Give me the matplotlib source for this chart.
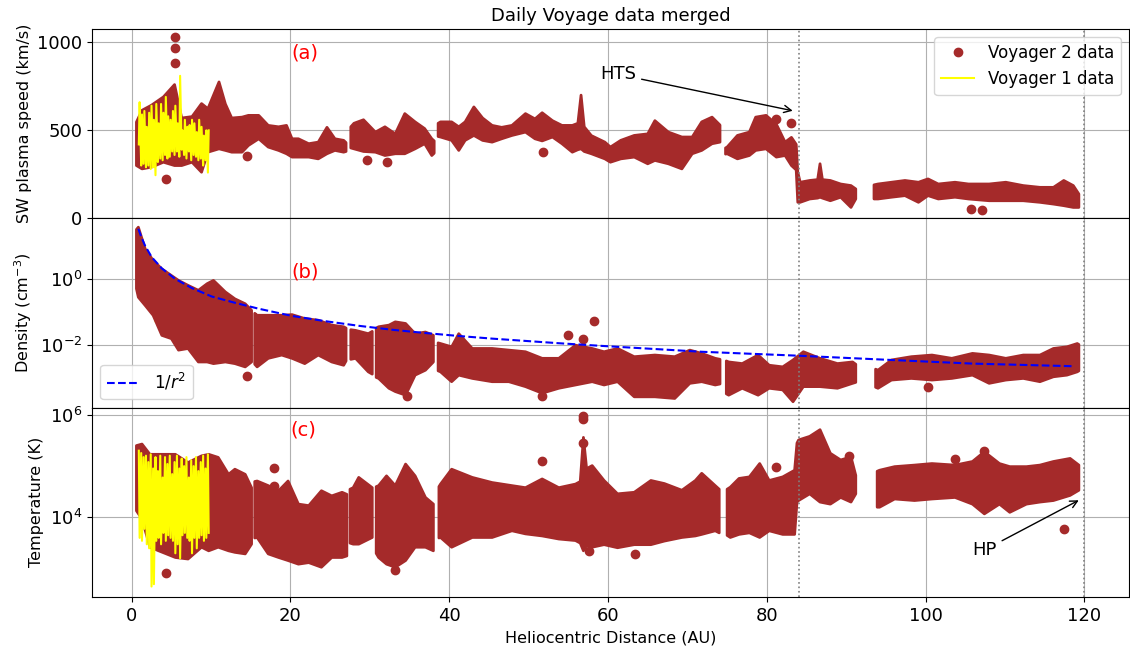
import numpy as np
import matplotlib
matplotlib.use("Agg")
import matplotlib.pyplot as plt
from matplotlib.ticker import NullLocator

nan = np.nan

# --- panel (a): Voyager 2 solar wind speed, envelope of the daily points (km/s)
speed_dist = [0.6, 1.3, 2.5, 4.0, 5.4, 6.3, 7.6, 8.8, 9.6, 11.0, 11.8, 12.6, 13.9, 14.7, 16.0,
              17.2, 18.5, 19.5, 20.2, 21.0, 22.3, 23.5, 24.6, 25.6, 26.7, 27.0, 27.3, 27.6, 28.0,
              29.2, 30.7, 31.9, 33.2, 34.4, 35.7, 36.9, 37.8, 38.1, 38.35, 38.6, 38.9, 40.3, 41.2,
              42.0, 43.1, 44.2, 45.4, 46.6, 47.9, 49.6, 50.8, 51.7, 53.0, 54.2, 55.5, 56.2, 56.6,
              57.0, 57.9, 59.6, 60.3, 61.6, 63.3, 65.0, 65.9, 67.6, 69.3, 70.6, 71.8, 73.1, 74.1,
              74.45, 74.8, 75.0, 76.3, 77.8, 78.6, 79.9, 81.2, 82.3, 83.1, 83.7, 83.9, 84.2, 85.4,
              86.4, 86.7, 87.0, 88.0, 89.3, 90.6, 91.2, 92.3, 93.5, 94.0, 95.7, 97.4, 99.1, 100.3,
              101.6, 103.7, 105.4, 108.0, 110.1, 112.3, 114.4, 116.1, 117.4, 118.6, 119.3]
speed_hi = [547, 614, 643, 690, 760, 570, 578, 652, 623, 775, 650, 570, 575, 585, 585,
            528, 520, 528, 452, 452, 424, 433, 517, 452, 443, 430, nan, 520, 540,
            560, 490, 520, 480, 595, 548, 510, 452, 440, nan, 540, 548, 548, 520,
            548, 633, 570, 528, 517, 528, 595, 565, 600, 555, 528, 528, 540, 700,
            520, 470, 433, 405, 443, 471, 480, 555, 490, 462, 462, 548, 575, 530,
            nan, 400, 405, 471, 490, 575, 585, 535, 433, 460, 420, 262, 205, 215,
            220, 310, 220, 215, 195, 186, 167, nan, 190, 195, 205, 215, 205, 224,
            195, 205, 195, 195, 205, 186, 176, 176, 215, 186, 138]
speed_lo = [300, 281, 291, 319, 300, 300, 319, 262, 376, 395, 386, 376, 376, 414, 452,
            405, 386, 367, 348, 348, 348, 338, 367, 386, 376, 380, nan, 400, 395,
            380, 376, 357, 367, 367, 395, 424, 357, 370, nan, 465, 462, 443, 386,
            443, 471, 443, 433, 452, 471, 490, 452, 440, 462, 424, 376, 390, 395,
            380, 367, 338, 319, 338, 348, 310, 329, 310, 281, 367, 386, 424, 433,
            nan, 365, 367, 338, 357, 386, 395, 348, 357, 300, 275, 91, 91, 110,
            115, 120, 115, 100, 120, 62, 110, nan, 110, 110, 120, 129, 91, 129,
            110, 120, 110, 100, 100, 100, 91, 81, 72, 62, 62]
speed_out_dist = [4.3, 5.5, 5.5, 5.5, 14.5, 29.6, 32.1, 51.8, 81.2, 83.0, 105.7, 107.1]
speed_out = [224, 1028, 969, 880, 357, 329, 319, 376, 562, 543, 53, 48]

# --- panel (b): density envelope, log10(cm^-3)
dens_dist = [0.6, 0.84, 1.7, 2.7, 3.8, 5.0, 5.9, 7.1, 8.4, 9.5, 10.3, 11.8, 13.0, 14.3, 15.1,
             15.3, 15.5, 15.8, 17.2, 18.9, 20.2, 21.8, 23.5, 25.2, 26.7, 27.0, 27.3, 27.6, 28.2,
             29.8, 30.3, 30.55, 30.8, 31.1, 32.4, 33.2, 34.5, 35.7, 37.0, 38.0, 38.4, 38.6, 38.9,
             40.3, 41.2, 42.9, 45.4, 47.5, 49.6, 51.7, 53.8, 55.9, 58.0, 59.5, 61.2, 63.3, 65.9,
             68.4, 70.3, 71.8, 73.5, 74.1, 74.5, 74.9, 75.2, 76.9, 78.9, 80.3, 82.0, 83.3, 84.6,
             86.7, 88.9, 90.8, 91.2, 92.5, 93.7, 94.0, 95.7, 98.2, 100.8, 103.3, 105.9, 108.0,
             110.1, 112.3, 114.4, 116.1, 117.8, 119.1, 119.3]
dens_hi_log = [1.50, 1.57, 0.91, 0.56, 0.30, 0.10, -0.05, -0.20, -0.35, -0.15, -0.05, -0.40, -0.61, -0.76, -0.96,
               nan, -1.05, -1.11, -1.11, -1.11, -1.09, -1.21, -1.26, -1.41, -1.46, -1.50, nan, -1.55, -1.57,
               -1.67, -1.60, nan, -1.50, -1.46, -1.41, -1.31, -1.36, -1.67, -1.62, -1.72, nan, -1.95, -1.97,
               -2.07, -1.67, -2.12, -2.12, -2.17, -2.22, -2.42, -2.42, -2.02, -2.12, -2.22, -2.12, -2.37, -2.32,
               -2.37, -2.17, -2.27, -2.42, -2.45, nan, -2.50, -2.53, -2.58, -2.32, -2.63, -2.68, -2.47, -2.22,
               -2.42, -2.58, -2.53, -2.60, nan, -2.75, -2.78, -2.47, -2.37, -2.32, -2.42, -2.27, -2.32,
               -2.42, -2.32, -2.32, -2.12, -2.07, -1.97, -2.00]
dens_lo_log = [-0.30, -0.56, -0.81, -1.11, -1.72, -1.82, -2.17, -2.12, -2.53, -2.53, -2.58, -2.53, -2.58, -2.68, -2.53,
               nan, -2.60, -2.68, -2.42, -2.32, -2.42, -2.58, -2.32, -2.53, -2.63, -2.50, nan, -2.45, -2.42,
               -2.83, -2.90, nan, -3.00, -3.03, -3.33, -3.43, -3.54, -2.93, -2.78, -2.53, nan, -2.80, -2.83,
               -3.13, -2.93, -3.03, -3.13, -3.13, -3.28, -3.48, -3.33, -3.23, -3.13, -3.23, -3.13, -3.59, -3.59,
               -3.64, -3.18, -3.13, -3.23, -3.20, nan, -3.50, -3.54, -3.33, -3.54, -3.33, -3.38, -3.74, -3.28,
               -3.28, -3.33, -3.18, -3.15, nan, -3.30, -3.33, -3.08, -3.03, -3.08, -3.03, -2.93, -3.18,
               -3.08, -3.03, -3.13, -2.98, -2.93, -2.83, -2.80]
dens_out_dist = [14.5, 34.7, 51.7, 55.0, 56.9, 58.2, 100.3]
dens_out_log = [-2.96, -3.57, -3.57, -1.72, -1.82, -1.29, -3.28]

# 1/r^2 reference curve
r2_dist = [0.84, 1.2, 1.68, 2.52, 3.78, 5.46, 7.56, 10.1, 13.0, 16.0, 20.2, 24.4, 28.6, 32.8,
           37.0, 41.2, 45.4, 49.6, 53.8, 59.1, 71.8, 84.0, 95.7, 105.9, 118.6]
r2_log = [1.52, 1.28, 1.01, 0.66, 0.32, 0.0, -0.28, -0.54, -0.73, -0.91, -1.13, -1.29, -1.43, -1.55,
          -1.65, -1.74, -1.82, -1.89, -1.96, -2.04, -2.22, -2.34, -2.47, -2.58, -2.66]

# --- panel (c): temperature envelope, log10(K)
temp_dist = [0.6, 1.3, 2.3, 3.4, 5.5, 7.1, 8.8, 9.7, 10.9, 12.2, 13.0, 14.3, 15.1, 15.3, 15.5,
             15.8, 17.2, 18.5, 19.7, 21.0, 22.3, 23.9, 25.2, 26.5, 27.1, 27.3, 27.5, 27.9, 28.6,
             30.3, 30.6, 30.8, 31.1, 32.1, 33.2, 34.5, 35.7, 37.0, 38.0, 38.4, 38.7, 38.9, 40.3,
             42.9, 45.4, 47.9, 49.6, 51.7, 53.8, 55.9, 56.5, 56.9, 57.3, 58.0, 59.5, 61.2, 63.3,
             65.4, 67.1, 69.3, 71.0, 71.8, 73.5, 74.0, 74.5, 75.0, 75.4, 76.5, 77.8, 79.1, 80.3,
             82.0, 83.5, 83.8, 84.0, 85.4, 86.7, 88.0, 89.3, 90.6, 91.2, 92.5, 93.9, 94.2, 96.1,
             98.6, 100.8, 103.7, 105.9, 107.4, 109.3, 110.6, 112.7, 114.4, 116.1, 118.2, 119.3]
temp_hi_log = [5.40, 5.43, 5.23, 5.23, 5.23, 5.07, 5.20, 5.23, 5.17, 4.84, 4.94, 4.84, 4.58, nan, 4.70,
               4.71, 4.62, 4.52, 4.71, 4.26, 4.23, 4.52, 4.42, 4.49, 4.45, nan, 4.55, 4.58, 4.78,
               4.58, nan, 4.60, 4.62, 4.81, 4.62, 5.04, 4.81, 4.39, 4.26, nan, 4.60, 4.65, 4.94,
               4.78, 4.68, 4.62, 4.58, 4.75, 4.58, 4.65, 4.70, 5.56, 4.95, 5.01, 4.72, 4.46, 4.49,
               4.72, 4.66, 4.53, 4.72, 4.86, 4.62, 4.55, nan, 4.55, 4.59, 4.76, 4.79, 5.05, 4.72,
               4.79, 4.92, 5.45, 5.51, 5.58, 5.71, 5.25, 5.12, 5.18, 4.82, nan, 4.90, 4.92, 4.99,
               5.02, 5.05, 5.02, 5.09, 5.28, 5.05, 4.99, 4.99, 5.02, 5.09, 5.15, 5.02]
temp_lo_log = [4.13, 3.97, 3.42, 3.35, 3.22, 3.19, 3.42, 3.35, 3.42, 3.35, 3.32, 3.29, 3.48, nan, 3.60,
               3.61, 3.29, 3.22, 3.16, 3.09, 3.12, 3.03, 3.22, 3.22, 3.25, nan, 3.50, 3.48, 3.48,
               3.61, nan, 3.30, 3.22, 3.09, 3.03, 3.16, 3.42, 3.42, 3.35, nan, 3.60, 3.61, 3.42,
               3.61, 3.61, 3.74, 3.68, 3.64, 3.58, 3.55, 3.50, 3.35, 3.45, 3.42, 3.47, 3.41, 3.47,
               3.47, 3.54, 3.61, 3.64, 3.67, 3.74, 3.70, nan, 3.65, 3.61, 3.67, 3.70, 3.61, 3.74,
               3.67, 3.67, 4.30, 4.33, 4.46, 4.30, 4.26, 4.39, 4.30, 4.46, nan, 4.20, 4.20, 4.36,
               4.33, 4.36, 4.39, 4.26, 4.07, 4.26, 4.10, 4.26, 4.30, 4.33, 4.43, 4.53]
temp_out_dist = [4.3, 17.9, 17.9, 33.2, 51.7, 56.9, 56.9, 56.9, 57.6, 63.4, 81.2, 90.3, 103.7, 107.3, 117.4]
temp_out_log = [2.91, 4.97, 4.62, 2.98, 5.10, 5.98, 5.92, 5.46, 3.35, 3.28, 4.99, 5.20, 5.13, 5.30, 3.77]

# --- Voyager 1 (inner heliosphere only)
v1_dist = [0.9, 1.0, 1.2, 1.3, 1.5, 1.6, 1.8, 1.9, 2.1, 2.2, 2.4, 2.5, 2.7, 2.8, 3.0,
           3.1, 3.3, 3.4, 3.6, 3.7, 3.9, 4.0, 4.2, 4.3, 4.5, 4.6, 4.8, 4.9, 5.1, 5.2,
           5.4, 5.5, 5.7, 5.8, 6.0, 6.1, 6.3, 6.4, 6.6, 6.7, 6.9, 7.0, 7.2, 7.3, 7.5,
           7.6, 7.8, 7.9, 8.1, 8.2, 8.4, 8.5, 8.7, 8.8, 9.0, 9.1, 9.3, 9.4, 9.6, 9.7]
v1_speed = [420, 660, 300, 590, 310, 610, 290, 520, 300, 600,
            280, 640, 290, 560, 245, 650, 320, 540, 340, 650,
            330, 600, 360, 690, 340, 580, 350, 560, 380, 610,
            360, 640, 380, 540, 350, 810, 390, 500, 360, 560,
            340, 520, 380, 530, 330, 560, 360, 540, 350, 490,
            330, 560, 340, 520, 300, 470, 330, 500, 260, 500]
v1_temp = [2.0e5, 4.0e3, 1.8e5, 3.5e3, 1.5e5, 6.0e3, 1.6e5, 3.0e3, 1.2e5, 2.5e3,
           1.7e5, 4.5e2, 9.0e4, 5.0e2, 1.5e5, 3.5e3, 8.0e4, 4.0e3, 1.6e5, 3.0e3,
           6.0e4, 5.0e3, 1.5e5, 3.5e3, 1.1e5, 4.5e3, 1.6e5, 4.0e3, 7.0e4, 3.5e3,
           1.2e5, 2.0e3, 1.6e5, 3.0e3, 9.0e4, 1.6e3, 1.4e5, 4.5e3, 1.0e5, 5.0e3,
           1.5e5, 4.0e3, 6.0e4, 3.5e3, 1.3e5, 2.0e3, 1.0e5, 4.0e3, 1.5e5, 2.5e3,
           8.0e4, 4.0e3, 1.2e5, 4.5e3, 1.6e5, 3.5e3, 9.0e4, 4.0e3, 1.7e5, 5.0e3]
v1_dens_dist = [1.0, 1.5, 2.0, 2.5, 2.7, 3.0, 3.2, 3.5, 4.0, 5.0, 6.0, 7.0, 8.0, 9.0, 9.7]
v1_dens = [10, 3, 1.5, 0.25, 1.0, 0.05, 0.8, 0.3, 0.2, 0.1, 0.05, 0.03, 0.02, 0.01, 0.02]

V2 = 'brown'
V1 = 'yellow'

fig, (ax1, ax2, ax3) = plt.subplots(3, 1, sharex=True, figsize=(11.3, 6.53), dpi=100)
fig.subplots_adjust(left=0.0814, right=0.999, top=0.9556, bottom=0.0858, hspace=0)

# (a) speed
ax1.fill_between(speed_dist, speed_lo, speed_hi, color=V2, lw=2, edgecolor=V2, zorder=2)
ax1.plot(speed_out_dist, speed_out, 'o', color=V2, label='Voyager 2 data', zorder=3)
ax1.plot(v1_dist, v1_speed, color=V1, lw=1.5, label='Voyager 1 data', zorder=4)
ax1.set_ylim(0, 1076)
ax1.set_yticks([0, 500, 1000])
ax1.set_ylabel('SW plasma speed (km/s)', fontsize=11.5)
ax1.set_title('Daily Voyage data merged', fontsize=13)
ax1.legend(loc='upper right', fontsize=12)
ax1.text(21.8, 937, '(a)', color='red', fontsize=14, ha='center', va='center')
ax1.annotate('HTS', xy=(83.6, 608), xytext=(59.0, 790), fontsize=13,
             arrowprops=dict(arrowstyle='->', color='black', lw=1))

# (b) density
ax2.plot(v1_dens_dist, v1_dens, color=V1, lw=1.5, zorder=1)
ax2.fill_between(dens_dist, 10 ** np.array(dens_lo_log), 10 ** np.array(dens_hi_log),
                 color=V2, lw=2, edgecolor=V2, zorder=2)
ax2.plot(dens_out_dist, 10 ** np.array(dens_out_log), 'o', color=V2, zorder=3)
ax2.plot(r2_dist, 10 ** np.array(r2_log), '--', color='blue', lw=1.5, label='1/$r^2$', zorder=4)
ax2.set_yscale('log')
ax2.set_ylim(10 ** -3.92, 10 ** 1.84)
ax2.set_yticks([1e-2, 1e0])
ax2.set_ylabel('Density (cm$^{-3}$)', fontsize=11.5)
ax2.legend(loc='lower left', fontsize=12)
ax2.text(21.8, 10 ** 0.22, '(b)', color='red', fontsize=14, ha='center', va='center')

# (c) temperature
ax3.fill_between(temp_dist, 10 ** np.array(temp_lo_log), 10 ** np.array(temp_hi_log),
                 color=V2, lw=2, edgecolor=V2, zorder=2)
ax3.plot(temp_out_dist, 10 ** np.array(temp_out_log), 'o', color=V2, zorder=3)
ax3.plot(v1_dist, v1_temp, color=V1, lw=1.5, zorder=4)
ax3.set_yscale('log')
ax3.set_ylim(10 ** 2.45, 10 ** 6.14)
ax3.set_yticks([1e4, 1e6])
ax3.set_ylabel('Temperature (K)', fontsize=11.5)
ax3.text(21.6, 10 ** 5.70, '(c)', color='red', fontsize=14, ha='center', va='center')
ax3.annotate('HP', xy=(119.6, 10 ** 4.36), xytext=(105.9, 10 ** 3.27), fontsize=13,
             arrowprops=dict(arrowstyle='->', color='black', lw=1))
ax3.set_xlabel('Heliocentric Distance (AU)', fontsize=11.5)
ax3.set_xlim(-5.0, 125.6)

for ax in (ax1, ax2, ax3):
    ax.yaxis.set_minor_locator(NullLocator())
    ax.grid(True)
    ax.tick_params(labelsize=13)
    ax.axvline(84, color='gray', ls=':', lw=1.2)
    ax.axvline(120, color='gray', ls=':', lw=1.2)

fig.savefig('out.png', dpi=100)
